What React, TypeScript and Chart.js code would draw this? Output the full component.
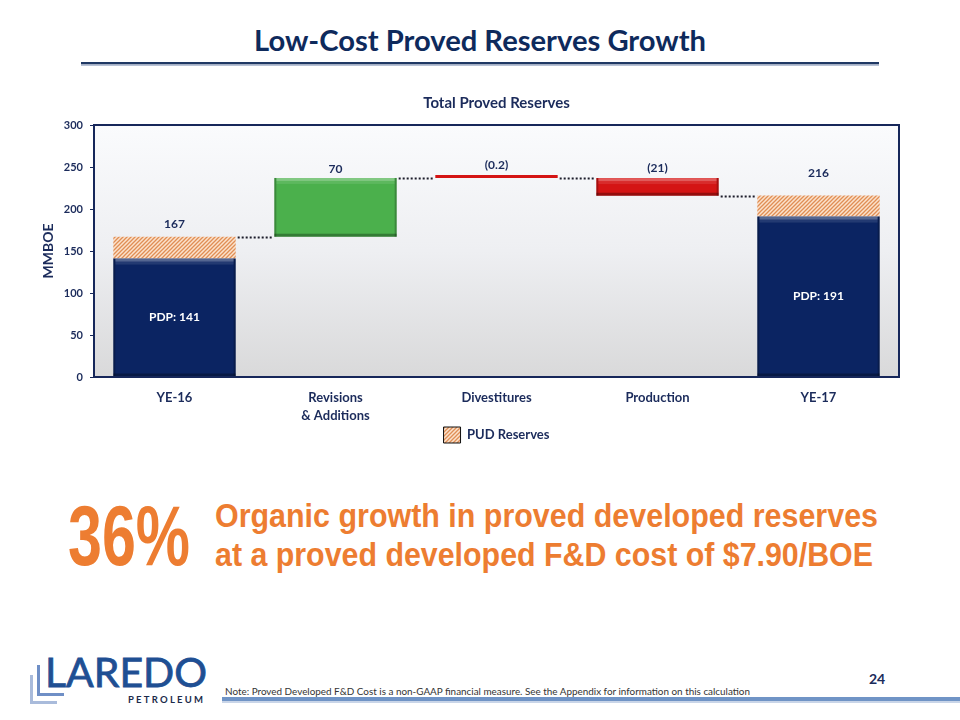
import React, { useEffect, useRef } from "react";
import { Chart, registerables } from "chart.js";

Chart.register(...registerables);

// ---------- data ----------
const categories: (string | string[])[] = ["YE-16", ["Revisions", "& Additions"], "Divestitures", "Production", "YE-17"];
const pdpValues: (number | null)[] = [141, null, null, null, 191];
const totalValues: (number | null)[] = [167, null, null, null, 216];
const changeValues: (number | null)[] = [null, 70, -0.2, -21, null];
const topLabels = ["167", "70", "(0.2)", "(21)", "216"];
const pdpLabels: (string | null)[] = ["PDP: 141", null, null, null, "PDP: 191"];
const yMin = 0;
const yMax = 300;
const yStep = 50;

// ---------- styles ----------
const NAVY_TEXT = "#1b2b5b";
const BAR_NAVY = "#0b2462";
const BAR_GREEN = "#4bb04c";
const BAR_RED = "#d41414";
const FONT = "Lato";
const labelGaps = [13, 9, 10, 10, 22];

// ranges built from the values above
const pudRanges = pdpValues.map((p, i) => (p != null && totalValues[i] != null ? [p, totalValues[i] as number] : null));
const runningLevels: number[] = [];
const changeRanges: (number[] | null)[] = [];
{
  let level = 0;
  categories.forEach((_, i) => {
    if (totalValues[i] != null) {
      level = totalValues[i] as number;
      changeRanges.push(null);
    } else {
      const d = changeValues[i] as number;
      const next = level + d;
      changeRanges.push([Math.min(level, next), Math.max(level, next)]);
      level = next;
    }
    runningLevels.push(level);
  });
}
const changeColors = changeValues.map((v) => (v == null ? "rgba(0,0,0,0)" : v >= 0 ? BAR_GREEN : BAR_RED));

function makeHatch(): CanvasPattern | string {
  const c = document.createElement("canvas");
  c.width = 4;
  c.height = 4;
  const g = c.getContext("2d");
  if (!g) return "#f0b080";
  g.fillStyle = "#fbe2cc";
  g.fillRect(0, 0, 4, 4);
  g.strokeStyle = "#e08e55";
  g.lineWidth = 1.3;
  g.beginPath();
  g.moveTo(0, 4);
  g.lineTo(4, 0);
  g.moveTo(-1, 1);
  g.lineTo(1, -1);
  g.moveTo(3, 5);
  g.lineTo(5, 3);
  g.stroke();
  return g.createPattern(c, "repeat") || "#f0b080";
}

function barBox(el: any) {
  const p = el.getProps(["x", "y", "base", "width"], true);
  const top = Math.min(p.y, p.base);
  const bottom = Math.max(p.y, p.base);
  return { left: p.x - p.width / 2, right: p.x + p.width / 2, top, bottom, x: p.x };
}

const slidePlugin = {
  id: "slide",
  beforeDatasetsDraw(chart: any) {
    const { ctx, chartArea: a } = chart;
    ctx.save();
    const g = ctx.createLinearGradient(0, a.top, 0, a.bottom);
    g.addColorStop(0, "#fafbfd");
    g.addColorStop(0.5, "#eeeff2");
    g.addColorStop(1, "#d9d9da");
    ctx.fillStyle = g;
    ctx.fillRect(a.left, a.top, a.right - a.left, a.bottom - a.top);
    ctx.restore();
  },
  afterDatasetsDraw(chart: any) {
    const { ctx, chartArea: a } = chart;
    ctx.save();
    // bevel on solid bars
    [0, 2].forEach((di) => {
      chart.getDatasetMeta(di).data.forEach((el: any, i: number) => {
        const b = barBox(el);
        if (!isFinite(b.top) || !isFinite(b.bottom)) return;
        if (di === 0 && pdpValues[i] == null) return;
        if (di === 2 && changeValues[i] == null) return;
        const h = b.bottom - b.top;
        const w = b.right - b.left;
        if (h < 8) return;
        ctx.fillStyle = "rgba(255,255,255,0.30)";
        ctx.fillRect(b.left + 2, b.top, w - 4, 3);
        ctx.fillStyle = "rgba(255,255,255,0.10)";
        ctx.fillRect(b.left + 2, b.top + 3, w - 4, 3);
        ctx.fillStyle = "rgba(0,0,0,0.30)";
        ctx.fillRect(b.left, b.bottom - 3, w, 3);
        ctx.fillStyle = "rgba(0,0,0,0.22)";
        ctx.fillRect(b.left, b.top, 2, h);
        ctx.fillRect(b.right - 2, b.top, 2, h);
      });
    });
    // dotted connectors
    ctx.strokeStyle = "#1d1d2b";
    ctx.lineWidth = 2;
    ctx.setLineDash([2, 2]);
    const metas = [0, 1, 2].map((d) => chart.getDatasetMeta(d));
    const boxFor = (i: number) => {
      const d = totalValues[i] != null ? 1 : 2;
      return barBox(metas[d].data[i]);
    };
    for (let i = 0; i < categories.length - 1; i++) {
      const y = chart.scales.y.getPixelForValue(runningLevels[i]);
      const b1 = boxFor(i);
      const b2 = boxFor(i + 1);
      ctx.beginPath();
      ctx.moveTo(b1.right + 2, Math.round(y) + 0.5);
      ctx.lineTo(b2.left - 2, Math.round(y) + 0.5);
      ctx.stroke();
    }
    ctx.setLineDash([]);
    // labels
    ctx.textAlign = "center";
    ctx.textBaseline = "middle";
    ctx.font = `bold 12px ${FONT}`;
    categories.forEach((_, i) => {
      const d = totalValues[i] != null ? 1 : 2;
      const b = barBox(metas[d].data[i]);
      ctx.fillStyle = NAVY_TEXT;
      ctx.fillText(topLabels[i], b.x, b.top - labelGaps[i]);
      const pl = pdpLabels[i];
      if (pl) {
        const pb = barBox(metas[0].data[i]);
        ctx.fillStyle = "#ffffff";
        ctx.fillText(pl, pb.x, (pb.top + pb.bottom) / 2);
      }
    });
    // plot frame
    ctx.strokeStyle = "#16275a";
    ctx.lineWidth = 2;
    ctx.strokeRect(a.left, a.top, a.right - a.left, a.bottom - a.top);
    ctx.restore();
  },
};

function App() {
  const ref = useRef<HTMLCanvasElement | null>(null);

  useEffect(() => {
    if (!ref.current) return;
    const hatch = makeHatch();
    const chart = new Chart(ref.current, {
      type: "bar",
      data: {
        labels: categories as any,
        datasets: [
          {
            label: "PDP Reserves",
            data: pdpValues as any,
            backgroundColor: BAR_NAVY,
            grouped: false,
            barPercentage: 0.76,
            categoryPercentage: 1,
          } as any,
          {
            label: "PUD Reserves",
            data: pudRanges as any,
            backgroundColor: hatch,
            grouped: false,
            barPercentage: 0.76,
            categoryPercentage: 1,
          } as any,
          {
            label: "Change",
            data: changeRanges as any,
            backgroundColor: changeColors,
            grouped: false,
            barPercentage: 0.76,
            categoryPercentage: 1,
            minBarLength: 3,
          } as any,
        ],
      },
      options: {
        responsive: false,
        animation: false,
        layout: { padding: { left: 40, right: 61, top: 0, bottom: 0 } },
        plugins: {
          title: {
            display: true,
            fullSize: false,
            text: "Total Proved Reserves",
            color: NAVY_TEXT,
            font: { family: FONT, size: 15, weight: "bold" },
            padding: { top: 14, bottom: 13 },
          },
          legend: {
            position: "bottom",
            fullSize: false,
            onClick: () => {},
            labels: {
              boxWidth: 17,
              boxHeight: 16,
              padding: 2,
              color: NAVY_TEXT,
              font: { family: FONT, size: 13, weight: "bold" },
              generateLabels: () => [
                {
                  text: "PUD Reserves",
                  fillStyle: hatch as any,
                  strokeStyle: "#111111",
                  lineWidth: 1,
                  hidden: false,
                  datasetIndex: 1,
                  fontColor: NAVY_TEXT,
                },
              ],
            },
          },
          tooltip: { enabled: false },
        },
        scales: {
          x: {
            grid: { display: false },
            border: { display: false },
            ticks: {
              color: NAVY_TEXT,
              font: { family: FONT, size: 13, weight: "bold", lineHeight: 1.4 },
              padding: 4,
              maxRotation: 0,
              autoSkip: false,
            },
            afterFit: (s: any) => {
              s.height = 48;
            },
          },
          y: {
            min: yMin,
            max: yMax,
            ticks: {
              stepSize: yStep,
              color: NAVY_TEXT,
              font: { family: FONT, size: 11, weight: "bold" },
              padding: 7,
            },
            grid: { drawOnChartArea: false, drawTicks: true, tickLength: 4, color: "#16275a" },
            border: { display: false },
            title: {
              display: true,
              text: "MMBOE",
              color: NAVY_TEXT,
              font: { family: FONT, size: 14, weight: "bold" },
              padding: 0,
            },
            afterFit: (s: any) => {
              s.width = 54;
            },
          },
        },
      } as any,
      plugins: [slidePlugin],
    });
    return () => chart.destroy();
  }, []);

  const orange = "#ed7d31";
  return (
    <div
      style={{
        position: "fixed",
        left: 0,
        top: 0,
        width: 960,
        height: 720,
        background: "#ffffff",
        overflow: "hidden",
      }}
    >
      <svg width={960} height={720} style={{ position: "absolute", left: 0, top: 0 }}>
        <text
          x={480}
          y={51}
          textAnchor="middle"
          fontFamily={FONT}
          fontWeight="bold"
          fontSize={29}
          fill="#0e2a5c"
          textLength={452}
          lengthAdjust="spacingAndGlyphs"
        >
          Low-Cost Proved Reserves Growth
        </text>
        <rect x={81} y={62} width={798} height={2.5} fill="#1f3864" />
        <rect x={81} y={64.5} width={798} height={1.5} fill="#b7c1d5" />

        <text
          x={68}
          y={565}
          fontFamily="Liberation Sans"
          fontWeight="bold"
          fontSize={86}
          fill={orange}
          textLength={122}
          lengthAdjust="spacingAndGlyphs"
        >
          36%
        </text>
        <text
          x={215}
          y={527}
          fontFamily="Liberation Sans"
          fontWeight="bold"
          fontSize={33}
          fill={orange}
          textLength={663}
          lengthAdjust="spacingAndGlyphs"
        >
          Organic growth in proved developed reserves
        </text>
        <text
          x={215}
          y={566}
          fontFamily="Liberation Sans"
          fontWeight="bold"
          fontSize={33}
          fill={orange}
          textLength={658}
          lengthAdjust="spacingAndGlyphs"
        >
          at a proved developed F&amp;D cost of $7.90/BOE
        </text>

        {/* logo */}
        <rect x={30} y={675} width={3} height={29} fill="#a9bbdb" />
        <rect x={30} y={701} width={27} height={3} fill="#a9bbdb" />
        <rect x={37} y={665} width={3} height={31} fill="#6f8fc6" />
        <rect x={37} y={693} width={27} height={3} fill="#6f8fc6" />
        <text
          x={45}
          y={687}
          fontFamily={FONT}
          fontSize={41}
          fill="#1f4f93"
          stroke="#1f4f93"
          strokeWidth={0.8}
          textLength={162}
          lengthAdjust="spacingAndGlyphs"
        >
          LAREDO
        </text>
        <text
          x={128}
          y={703}
          fontFamily={FONT}
          fontWeight="bold"
          fontSize={9.5}
          fill="#1b2b4b"
          textLength={75}
          lengthAdjust="spacing"
        >
          PETROLEUM
        </text>

        <text
          x={225}
          y={695}
          fontFamily={FONT}
          fontSize={9.5}
          fill="#333333"
          textLength={525}
          lengthAdjust="spacingAndGlyphs"
        >
          Note: Proved Developed F&amp;D Cost is a non-GAAP financial measure. See the Appendix for information on this calculation
        </text>
        <rect x={222} y={697} width={738} height={4} fill="#7094c6" />
        <rect x={222} y={701} width={738} height={2} fill="#c9d5e8" />
        <text x={877} y={684} textAnchor="middle" fontFamily={FONT} fontWeight="bold" fontSize={14} fill={NAVY_TEXT}>
          24
        </text>
      </svg>
      <canvas
        ref={ref}
        width={960}
        height={373}
        style={{ position: "absolute", left: 0, top: 80, width: 960, height: 373 }}
      />
    </div>
  );
}

export default App;
